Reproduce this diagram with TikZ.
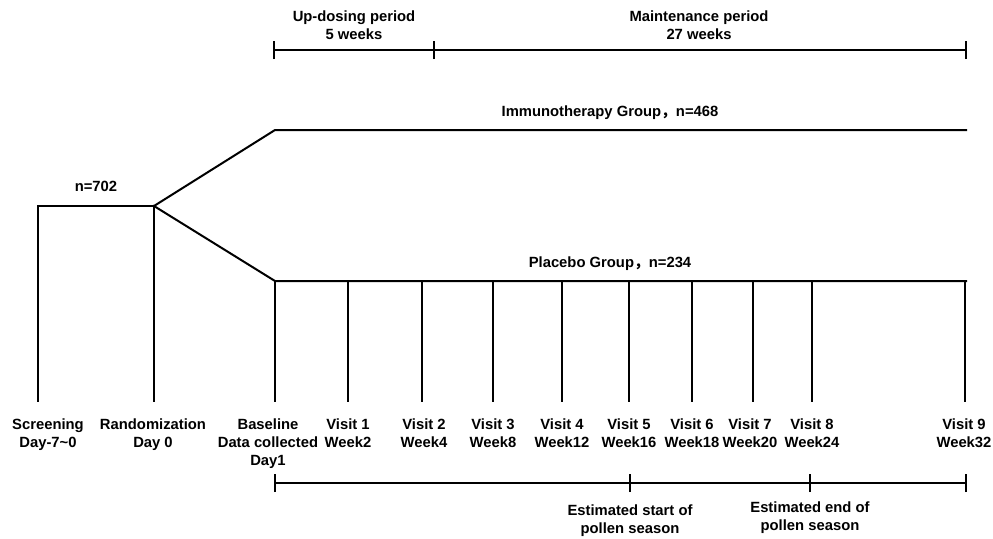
\documentclass[tikz,border=0pt]{standalone}
\usepackage{fontspec}
\setmainfont{Liberation Sans}
\newfontfamily\cjk{Noto Sans CJK SC}
\begin{document}
\begin{tikzpicture}[x=1pt,y=-1pt,
  ln/.style={line width=2pt,line cap=rect},
  tk/.style={line width=2pt},
  lbl/.style={font=\fontsize{14.8}{18}\selectfont\bfseries,align=center,inner sep=0pt,anchor=north}]
\useasboundingbox (0,0) rectangle (993,538);
% top brackets
\coordinate (t0) at (274,50); \coordinate (t1) at (434,50); \coordinate (t2) at (966,50);
\draw[ln] (t0) -- (t2);
\foreach \p in {t0,t1,t2} \draw[tk] ([yshift=-9pt]\p) -- ([yshift=9pt]\p);
\node[lbl] (up) at (354,11) {Up-dosing period\\5 weeks};
\node[lbl] (mt) at (699,11) {Maintenance period\\27 weeks};
% screening and randomization
\coordinate (s0) at (38,206); \coordinate (r0) at (154,206);
\coordinate (s1) at (38,401); \coordinate (r1) at (154,401);
\draw[ln] (s1) -- (s0) -- (r0) -- (r1);
\node[lbl] (n702) at (96,181) {n=702};
% immunotherapy
\coordinate (i0) at (275,130); \coordinate (i1) at (966,130);
\draw[ln] (r0) -- (i0) -- (i1);
\node[lbl] (imm) at (610,106) {Immunotherapy Group{\cjk ，}n=468};
% placebo
\coordinate (p0) at (275,281); \coordinate (p1) at (966,281);
\draw[ln] (r0) -- (p0) -- (p1);
\node[lbl] (pla) at (610,257) {Placebo Group{\cjk ，}n=234};
\foreach \x/\n in {275/v0,348/v1,422/v2,493/v3,562/v4,629/v5,692/v6,753/v7,812/v8,965/v9} {
  \coordinate (\n a) at (\x,281); \coordinate (\n b) at (\x,401);
  \draw[ln] (\n a) -- (\n b);
}
% bottom labels
\node[lbl] (scr) at (48,419) {Screening\\Day-7\textasciitilde 0};
\node[lbl] (ran) at (153,419) {Randomization\\Day 0};
\node[lbl] (bas) at (268,419) {Baseline\\Data collected\\Day1};
\node[lbl] (l1) at (348,419) {Visit 1\\Week2};
\node[lbl] (l2) at (424,419) {Visit 2\\Week4};
\node[lbl] (l3) at (493,419) {Visit 3\\Week8};
\node[lbl] (l4) at (562,419) {Visit 4\\Week12};
\node[lbl] (l5) at (629,419) {Visit 5\\Week16};
\node[lbl] (l6) at (692,419) {Visit 6\\Week18};
\node[lbl] (l7) at (750,419) {Visit 7\\Week20};
\node[lbl] (l8) at (812,419) {Visit 8\\Week24};
\node[lbl] (l9) at (964,419) {Visit 9\\Week32};
% bottom timeline
\coordinate (b0) at (275,483); \coordinate (b1) at (630,483); \coordinate (b2) at (810,483); \coordinate (b3) at (966,483);
\draw[ln] (b0) -- (b3);
\foreach \p in {b0,b1,b2,b3} \draw[tk] ([yshift=-9pt]\p) -- ([yshift=9pt]\p);
\node[lbl] (es) at (630,505) {Estimated start of\\pollen season};
\node[lbl] (ee) at (810,502) {Estimated end of\\pollen season};
\end{tikzpicture}
\end{document}
